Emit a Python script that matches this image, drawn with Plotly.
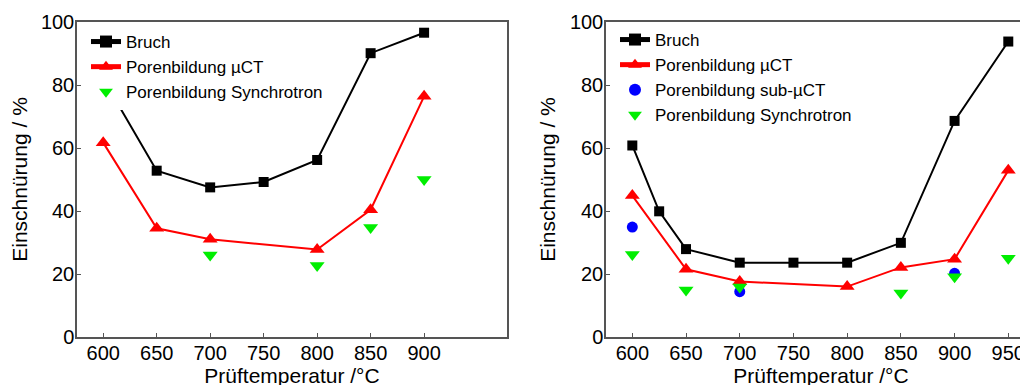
import plotly.graph_objects as go

# ---- Data: left panel ----
L_bruch_x = [600, 650, 700, 750, 800, 850, 900]
L_bruch_y = [82.0, 52.8, 47.5, 49.2, 56.2, 90.1, 96.6]
L_uct_x = [600, 650, 700, 800, 850, 900]
L_uct_y = [61.7, 34.5, 31.0, 27.8, 40.4, 76.4]
L_sync_x = [700, 800, 850, 900]
L_sync_y = [26.0, 22.7, 34.8, 50.0]
L_xticks = [600, 650, 700, 750, 800, 850, 900]

# ---- Data: right panel ----
R_bruch_x = [600, 625, 650, 700, 750, 800, 850, 900, 950]
R_bruch_y = [60.8, 39.9, 27.9, 23.6, 23.6, 23.6, 29.9, 68.6, 93.8]
R_uct_x = [600, 650, 700, 800, 850, 900, 950]
R_uct_y = [44.9, 21.5, 17.6, 16.0, 22.1, 24.7, 52.9]
R_sub_x = [600, 700, 900]
R_sub_y = [34.9, 14.4, 20.2]
R_sync_x = [600, 650, 700, 850, 900, 950]
R_sync_y = [26.2, 14.9, 15.9, 14.0, 19.1, 25.0]
R_xticks = [600, 650, 700, 750, 800, 850, 900, 950]

FONT = "Liberation Sans, Arial, sans-serif"
W, H = 1028, 385
OFF = 8  # page body margin

fig = go.Figure()

def add_panel(xa, ya, legend, bx, by, ux, uy, sx, sy, subx=None, suby=None):
    fig.add_trace(go.Scatter(x=bx, y=by, mode="lines+markers", name="Bruch",
                             line=dict(color="black", width=2),
                             marker=dict(symbol="square", size=10, color="black"),
                             xaxis=xa, yaxis=ya, legend=legend))
    fig.add_trace(go.Scatter(x=ux, y=uy, mode="lines+markers", name="Porenbildung µCT",
                             line=dict(color="#ff0000", width=2),
                             marker=dict(symbol="triangle-up", size=13, color="#ff0000"),
                             xaxis=xa, yaxis=ya, legend=legend))
    if subx is not None:
        fig.add_trace(go.Scatter(x=subx, y=suby, mode="markers", name="Porenbildung sub-µCT",
                                 marker=dict(symbol="circle", size=11, color="#0000ff"),
                                 xaxis=xa, yaxis=ya, legend=legend))
    fig.add_trace(go.Scatter(x=sx, y=sy, mode="markers", name="Porenbildung Synchrotron",
                             marker=dict(symbol="triangle-down", size=13, color="#00ee00"),
                             xaxis=xa, yaxis=ya, legend=legend))

add_panel("x", "y", "legend", L_bruch_x, L_bruch_y, L_uct_x, L_uct_y, L_sync_x, L_sync_y)
add_panel("x2", "y2", "legend2", R_bruch_x, R_bruch_y, R_uct_x, R_uct_y, R_sync_x, R_sync_y,
          R_sub_x, R_sub_y)

axcol = "#555555"
tickfont = dict(family=FONT, size=20, color="black")
titlefont = dict(family=FONT, size=21, color="black")

common_x = dict(showgrid=False, zeroline=False, showline=True, linecolor=axcol, linewidth=1.5,
                ticks="inside", ticklen=4, tickcolor=axcol, tickfont=tickfont, automargin=False,
                ticklabelstandoff=-3,
                title=dict(text="Prüftemperatur /°C", font=titlefont, standoff=0))
common_y = dict(showgrid=False, zeroline=False, showline=True, linecolor=axcol, linewidth=1.5,
                ticks="inside", ticklen=4, tickcolor=axcol, tickfont=tickfont, automargin=False,
                ticklabelstandoff=-3,
                range=[0, 100], tickvals=[0, 20, 40, 60, 80, 100],
                title=dict(text="Einschnürung / %", font=titlefont, standoff=9))

ydom = [1 - (337 - OFF) / H, 1 - (22 - OFF) / H]

fig.update_layout(
    width=W, height=H,
    margin=dict(l=0, r=0, t=0, b=0, autoexpand=False),
    paper_bgcolor="white", plot_bgcolor="white",
    xaxis=dict(common_x, domain=[(77 - OFF) / W, (507 - OFF) / W], range=[575.5, 977.5],
               tickvals=L_xticks, mirror=True, anchor="y"),
    yaxis=dict(common_y, domain=ydom, mirror=True, anchor="x"),
    xaxis2=dict(common_x, domain=[(606 - OFF) / W, 1.0], range=[575.5, 975.8],
                tickvals=R_xticks, mirror=True, anchor="y2"),
    yaxis2=dict(common_y, domain=ydom, mirror=False, anchor="x2"),
    legend=dict(x=(86 - OFF) / W, y=1 - (24 - OFF) / H, xanchor="left", yanchor="top",
                bgcolor="white", font=dict(family=FONT, size=17, color="black"),
                tracegroupgap=0, itemsizing="constant"),
    legend2=dict(x=(615 - OFF) / W, y=1 - (22 - OFF) / H, xanchor="left", yanchor="top",
                 bgcolor="white", font=dict(family=FONT, size=17, color="black"),
                 tracegroupgap=0, itemsizing="constant"),
    showlegend=True,
)

fig.write_html("out.html")
